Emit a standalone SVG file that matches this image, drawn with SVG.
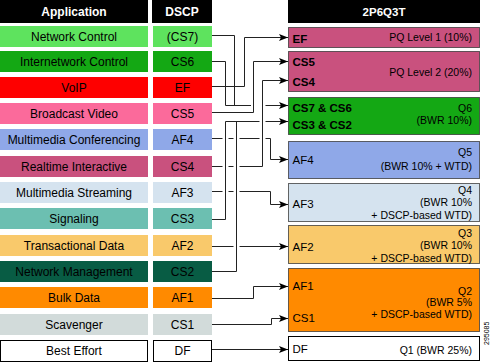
<svg xmlns="http://www.w3.org/2000/svg" width="493" height="363" viewBox="0 0 493 363">
<style>
  text { font-family: "Liberation Sans", Arial, Helvetica, sans-serif; fill: #000; }
  .hdr { font-size: 12px; font-weight: bold; fill: #fff; text-anchor: middle; }
  .lbl { font-size: 12px; text-anchor: middle; }
  .q { font-size: 10.5px; text-anchor: end; }
  .k { font-size: 11.5px; }
  .kb { font-size: 11.5px; font-weight: bold; }
  .box { stroke: #333; stroke-opacity: 0.75; stroke-width: 1; }
  .ln { fill: none; stroke: #222; stroke-width: 1; }
  .id { font-size: 7px; }
</style>
<defs>
  <marker id="arr" markerUnits="userSpaceOnUse" markerWidth="10" markerHeight="8" refX="9" refY="3.5" orient="auto">
    <path d="M0,0 L9,3.5 L0,7 L2,3.5 z" fill="#000"/>
  </marker>
</defs>
<rect width="493" height="363" fill="#fff"/>

<g id="headers">
  <rect x="0" y="0" width="148" height="23" fill="#000"/>
  <text class="hdr" x="74" y="16">Application</text>
  <rect x="152" y="0" width="60" height="23" fill="#000"/>
  <text class="hdr" x="182" y="16">DSCP</text>
  <rect x="288" y="0" width="192" height="23" fill="#000"/>
  <text class="hdr" x="384" y="16" style="font-size:11.5px">2P6Q3T</text>
</g>

<g id="row-network-control">
  <rect x="0" y="26" width="148" height="21" fill="#5ee35e"/>
  <text class="lbl" x="74" y="41">Network Control</text>
  <rect x="153" y="26" width="59" height="21" fill="#5ee35e"/>
  <text class="lbl" x="182.5" y="41">(CS7)</text>
</g>
<g id="row-internetwork-control">
  <rect x="0" y="51" width="148" height="21" fill="#14a814"/>
  <text class="lbl" x="74" y="66">Internetwork Control</text>
  <rect x="153" y="51" width="59" height="21" fill="#14a814"/>
  <text class="lbl" x="182.5" y="66">CS6</text>
</g>
<g id="row-voip">
  <rect x="0" y="77" width="148" height="21" fill="#fe0000"/>
  <text class="lbl" x="74" y="92">VoIP</text>
  <rect x="153" y="77" width="59" height="21" fill="#fe0000"/>
  <text class="lbl" x="182.5" y="92">EF</text>
</g>
<g id="row-broadcast-video">
  <rect x="0" y="103" width="148" height="21" fill="#fb6a9b"/>
  <text class="lbl" x="74" y="118">Broadcast Video</text>
  <rect x="153" y="103" width="59" height="21" fill="#fb6a9b"/>
  <text class="lbl" x="182.5" y="118">CS5</text>
</g>
<g id="row-multimedia-conferencing">
  <rect x="0" y="129" width="148" height="21" fill="#8fa8e8"/>
  <text class="lbl" x="74" y="144">Multimedia Conferencing</text>
  <rect x="153" y="129" width="59" height="21" fill="#8fa8e8"/>
  <text class="lbl" x="182.5" y="144">AF4</text>
</g>
<g id="row-realtime-interactive">
  <rect x="0" y="156" width="148" height="21" fill="#c9517e"/>
  <text class="lbl" x="74" y="171">Realtime Interactive</text>
  <rect x="153" y="156" width="59" height="21" fill="#c9517e"/>
  <text class="lbl" x="182.5" y="171">CS4</text>
</g>
<g id="row-multimedia-streaming">
  <rect x="0" y="182" width="148" height="21" fill="#d5e3ef"/>
  <text class="lbl" x="74" y="197">Multimedia Streaming</text>
  <rect x="153" y="182" width="59" height="21" fill="#d5e3ef"/>
  <text class="lbl" x="182.5" y="197">AF3</text>
</g>
<g id="row-signaling">
  <rect x="0" y="208" width="148" height="21" fill="#6cbfb1"/>
  <text class="lbl" x="74" y="223">Signaling</text>
  <rect x="153" y="208" width="59" height="21" fill="#6cbfb1"/>
  <text class="lbl" x="182.5" y="223">CS3</text>
</g>
<g id="row-transactional-data">
  <rect x="0" y="235" width="148" height="21" fill="#f9c96b"/>
  <text class="lbl" x="74" y="250">Transactional Data</text>
  <rect x="153" y="235" width="59" height="21" fill="#f9c96b"/>
  <text class="lbl" x="182.5" y="250">AF2</text>
</g>
<g id="row-network-management">
  <rect x="0" y="261" width="148" height="21" fill="#085c44"/>
  <text class="lbl" x="74" y="276">Network Management</text>
  <rect x="153" y="261" width="59" height="21" fill="#085c44"/>
  <text class="lbl" x="182.5" y="276">CS2</text>
</g>
<g id="row-bulk-data">
  <rect x="0" y="287" width="148" height="21" fill="#ff8a00"/>
  <text class="lbl" x="74" y="302">Bulk Data</text>
  <rect x="153" y="287" width="59" height="21" fill="#ff8a00"/>
  <text class="lbl" x="182.5" y="302">AF1</text>
</g>
<g id="row-scavenger">
  <rect x="0" y="314" width="148" height="21" fill="#d2dbda"/>
  <text class="lbl" x="74" y="329">Scavenger</text>
  <rect x="153" y="314" width="59" height="21" fill="#d2dbda"/>
  <text class="lbl" x="182.5" y="329">CS1</text>
</g>
<g id="row-best-effort">
  <rect x="0.5" y="340.5" width="147" height="21" fill="#fff" stroke="#000"/>
  <text class="lbl" x="74" y="355">Best Effort</text>
  <rect x="153.5" y="340.5" width="58" height="21" fill="#fff" stroke="#000"/>
  <text class="lbl" x="182.5" y="355">DF</text>
</g>

<g id="queue-pq1">
  <rect class="box" x="288.5" y="27.5" width="191" height="20" fill="#c9517e"/>
  <text class="kb" x="292.5" y="43">EF</text>
  <text class="q" x="472" y="41">PQ Level 1 (10%)</text>
</g>
<g id="queue-pq2">
  <rect class="box" x="288.5" y="51.5" width="191" height="40" fill="#c9517e"/>
  <text class="kb" x="292.5" y="65.5">CS5</text>
  <text class="kb" x="292.5" y="85.5">CS4</text>
  <text class="q" x="472" y="76">PQ Level 2 (20%)</text>
</g>
<g id="queue-q6">
  <rect class="box" x="288.5" y="97.5" width="191" height="37" fill="#14a814"/>
  <text class="kb" x="292.5" y="111.5">CS7 &amp; CS6</text>
  <text class="kb" x="292.5" y="129">CS3 &amp; CS2</text>
  <text class="q" x="472" y="112">Q6</text>
  <text class="q" x="472" y="123.5">(BWR 10%)</text>
</g>
<g id="queue-q5">
  <rect class="box" x="288.5" y="141.5" width="191" height="37" fill="#8fa8e8"/>
  <text class="k" x="292.5" y="164">AF4</text>
  <text class="q" x="472" y="156">Q5</text>
  <text class="q" x="472" y="170">(BWR 10% + WTD)</text>
</g>
<g id="queue-q4">
  <rect class="box" x="288.5" y="183.5" width="191" height="38" fill="#d5e3ef"/>
  <text class="k" x="292.5" y="208">AF3</text>
  <text class="q" x="472" y="193.5">Q4</text>
  <text class="q" x="472" y="206">(BWR 10%</text>
  <text class="q" x="472" y="219">+ DSCP-based WTD)</text>
</g>
<g id="queue-q3">
  <rect class="box" x="288.5" y="225.5" width="191" height="38" fill="#f9c96b"/>
  <text class="k" x="292.5" y="251">AF2</text>
  <text class="q" x="472" y="237">Q3</text>
  <text class="q" x="472" y="249">(BWR 10%</text>
  <text class="q" x="472" y="262">+ DSCP-based WTD)</text>
</g>
<g id="queue-q2">
  <rect class="box" x="288.5" y="268.5" width="191" height="63" fill="#ff8a00"/>
  <text class="k" x="292.5" y="290">AF1</text>
  <text class="k" x="292.5" y="322">CS1</text>
  <text class="q" x="472" y="294.5">Q2</text>
  <text class="q" x="472" y="306">(BWR 5%</text>
  <text class="q" x="472" y="318">+ DSCP-based WTD)</text>
</g>
<g id="queue-q1">
  <rect x="288.5" y="336.5" width="191" height="24" fill="#fff" stroke="#000"/>
  <text class="k" x="292.5" y="353">DF</text>
  <text class="q" x="472" y="354">Q1 (BWR 25%)</text>
</g>

<g id="connectors">
  <path class="ln" d="M212 35.5 H234.5 V105.5"/>
  <path class="ln" d="M212 61.5 H225.5 V105.5"/>
  <path class="ln" marker-end="url(#arr)" d="M225.5 105.5 H251 M265.5 105.5 H288"/>
  <path class="ln" marker-end="url(#arr)" d="M212 86.5 H244.5 V37.5 H288"/>
  <path class="ln" marker-end="url(#arr)" d="M212 112.5 H253.5 V61.5 H288"/>
  <path class="ln" marker-end="url(#arr)" d="M212 166.5 H222.5 M228.5 166.5 H233.5 M239.5 166.5 H262.5 V80.5 H288"/>
  <path class="ln" d="M212 219.5 H225.5 V121.5"/>
  <path class="ln" d="M212 271.5 H236.5 V121.5"/>
  <path class="ln" marker-end="url(#arr)" d="M225.5 121.5 H259.5 M265.5 121.5 H288"/>
  <path class="ln" marker-end="url(#arr)" d="M212 138.5 H222.5 M228.5 138.5 H233.5 M239.5 138.5 H259.5 M265.5 138.5 H270.5 V159.5 H288"/>
  <path class="ln" marker-end="url(#arr)" d="M212 191.5 H222.5 M228.5 191.5 H233.5 M239.5 191.5 H270.5 V204.5 H288"/>
  <path class="ln" marker-end="url(#arr)" d="M212 246.5 H233.5 M239.5 246.5 H288"/>
  <path class="ln" marker-end="url(#arr)" d="M212 298.5 H253.5 V286.5 H288"/>
  <path class="ln" marker-end="url(#arr)" d="M212 324.5 H271.5 V318.5 H288"/>
  <path class="ln" marker-end="url(#arr)" d="M212 349.5 H288"/>
</g>

<text class="id" transform="translate(489,345) rotate(-90)">295085</text>
</svg>
